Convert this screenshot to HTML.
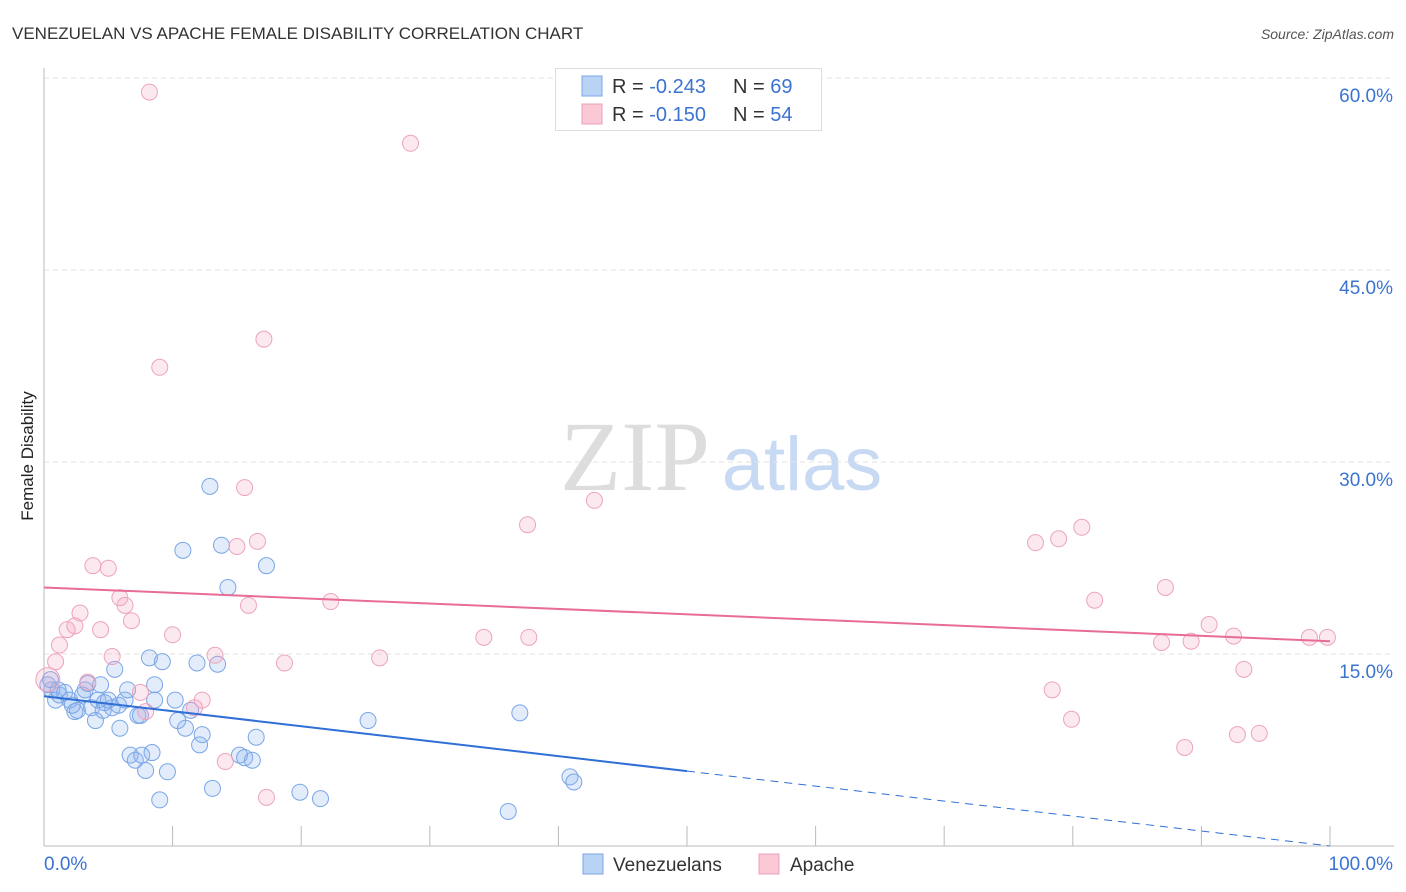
<!DOCTYPE html>
<html><head><meta charset="utf-8"><style>
body{margin:0;background:#fff;font-family:"Liberation Sans",sans-serif}
svg{display:block}
</style></head><body>
<svg id="c" width="1406" height="892">
<text x="12" y="39" font-size="17" fill="#333">VENEZUELAN VS APACHE FEMALE DISABILITY CORRELATION CHART</text>
<text x="1394" y="39" font-size="14" fill="#555" font-style="italic" text-anchor="end">Source: ZipAtlas.com</text>
<text x="33" y="456" font-size="17" fill="#222" transform="rotate(-90 33 456)" text-anchor="middle">Female Disability</text>
<g>
<text x="635" y="490" font-size="100" font-family="Liberation Serif,serif" fill="#ddd" text-anchor="middle">ZIP</text>
<text x="802" y="490" font-size="76" fill="#c8daf3" text-anchor="middle">atlas</text>
</g>
<g id="grid"></g><g id="axes"></g><g id="pts"></g><g id="lines"></g>
<g>
<rect x="555.5" y="68.5" width="266" height="62" fill="#fff" stroke="#ddd"/>
<rect x="582" y="76" width="20" height="20" fill="#b9d3f5" stroke="#7aa6e6"/>
<rect x="582" y="104" width="20" height="20" fill="#fbc8d6" stroke="#eda0b8"/>
<text x="612" y="93" font-size="20" fill="#333">R = <tspan fill="#3b73d1">-0.243</tspan><tspan x="733">N = </tspan><tspan fill="#3b73d1">69</tspan></text>
<text x="612" y="121" font-size="20" fill="#333">R = <tspan fill="#3b73d1">-0.150</tspan><tspan x="733">N = </tspan><tspan fill="#3b73d1">54</tspan></text>
</g>
<g>
<rect x="583" y="854" width="20" height="20" fill="#b9d3f5" stroke="#7aa6e6"/>
<text x="613" y="871" font-size="19" fill="#333">Venezuelans</text>
<rect x="759" y="854" width="20" height="20" fill="#fbc8d6" stroke="#eda0b8"/>
<text x="790" y="871" font-size="19" fill="#333">Apache</text>
</g>
</svg>
<script>
const yTicks=[15,30,45,60];
const yTickLabels=["15.0%","30.0%","45.0%","60.0%"];
const xTickLabels=["0.0%","100.0%"];
const blueX=[0.6,0.9,1.2,1.6,2.0,2.4,2.6,3.0,3.2,3.4,3.7,4.0,4.2,4.4,4.6,5.0,5.3,5.5,5.8,5.9,6.3,6.5,6.7,7.1,7.3,7.6,7.9,8.2,8.4,8.6,9.0,9.2,9.6,10.2,10.4,10.8,11.0,11.4,11.9,12.1,12.3,12.9,13.1,13.5,13.8,14.3,15.2,15.6,16.2,16.5,17.3,19.9,21.5,25.2,36.1,37.0,40.9,41.2,0.3,0.5,1.1,2.2,4.7,7.5,8.6];
const blueY=[12.2,11.4,11.8,12.0,11.4,10.5,10.6,11.8,12.2,12.7,10.8,9.8,11.4,12.6,10.6,11.4,10.8,13.8,11.0,9.2,11.4,12.2,7.1,6.7,10.2,7.1,5.9,14.7,7.3,12.6,3.6,14.4,5.8,11.4,9.8,23.1,9.2,10.6,14.3,7.9,8.7,28.1,4.5,14.2,23.5,20.2,7.1,6.9,6.7,8.5,21.9,4.2,3.7,9.8,2.7,10.4,5.4,5.0,12.6,13.0,12.2,11.0,11.2,10.2,11.4];
const pinkX=[0.3,0.9,1.2,1.8,2.4,2.8,3.4,3.8,4.4,5.0,5.3,5.9,6.3,6.8,7.5,7.9,8.2,9.0,10.0,11.7,12.3,13.3,14.1,15.0,15.6,15.9,16.6,17.1,17.3,18.7,22.3,26.1,28.5,34.2,37.6,37.7,42.8,77.1,78.4,78.9,79.9,80.7,81.7,86.9,87.2,88.7,89.2,90.6,92.5,92.8,93.3,94.5,98.4,99.8];
const pinkY=[13.0,14.4,15.7,16.9,17.2,18.2,12.8,21.9,16.9,21.7,14.8,19.4,18.8,17.6,12.0,10.5,58.9,37.4,16.5,10.8,11.4,14.9,6.6,23.4,28.0,18.8,23.8,39.6,3.8,14.3,19.1,14.7,54.9,16.3,25.1,16.3,27.0,23.7,12.2,24.0,9.9,24.9,19.2,15.9,20.2,7.7,16.0,17.3,16.4,8.7,13.8,8.8,16.3,16.3];
const blueTrend=[11.7,0.0];
const pinkTrend=[20.2,16.0];
const X=v=>44+v*12.86, Y=v=>846-v*12.8;
const NS="http://www.w3.org/2000/svg";
function mk(t,a,p){const e=document.createElementNS(NS,t);for(const k in a)e.setAttribute(k,a[k]);document.getElementById(p).appendChild(e);return e;}
yTicks.forEach((t,i)=>{
 const g=mk('line',{x1:44,x2:1394,y1:Y(t),y2:Y(t),stroke:'#e2e2e2','stroke-dasharray':'5,4'},'grid');
 
 
 const l=mk('text',{x:1393,y:Y(t)+24,'font-size':19,fill:'#3b73d1','text-anchor':'end'},'axes');
 l.textContent=yTickLabels[i];
 
 
});
const ya=mk('line',{x1:44,x2:44,y1:68,y2:846,stroke:'#bbb'},'axes');


const xa=mk('line',{x1:44,x2:1394,y1:846,y2:846,stroke:'#bbb'},'axes');


for(let i=0;i<=10;i++){const t=mk('line',{x1:X(i*10),x2:X(i*10),y1:826,y2:846,stroke:'#bbb'},'axes');
 
 }
[[X(0),'start'],[1393,'end']].forEach((p,i)=>{const l=mk('text',{x:p[0],y:870,'font-size':19,fill:'#3b73d1','text-anchor':p[1]},'axes');l.textContent=xTickLabels[i];
 
 });
blueX.forEach((x,i)=>{const c=mk('circle',{cx:X(x),cy:Y(blueY[i]),r:8,fill:'rgba(140,180,240,0.25)',stroke:'#7aa6e6','stroke-width':1},'pts');
 
 });
pinkX.forEach((x,i)=>{const c=mk('circle',{cx:X(x),cy:Y(pinkY[i]),r:i==0?12:8,fill:'rgba(245,165,190,0.25)',stroke:'#eda4bb','stroke-width':1},'pts');
 
 });
const bm=blueTrend[0]+(blueTrend[1]-blueTrend[0])*0.5;
const b1=mk('line',{x1:X(0),y1:Y(blueTrend[0]),x2:X(50),y2:Y(bm),stroke:'#2f6fd6','stroke-width':2},'lines');


const b2=mk('line',{x1:X(50),y1:Y(bm),x2:X(100),y2:Y(blueTrend[1]),stroke:'#2f6fd6','stroke-width':1,'stroke-dasharray':'8,6'},'lines');


const p1=mk('line',{x1:X(0),y1:Y(pinkTrend[0]),x2:X(100),y2:Y(pinkTrend[1]),stroke:'#e86c98','stroke-width':2},'lines');


</script>
</body></html>
